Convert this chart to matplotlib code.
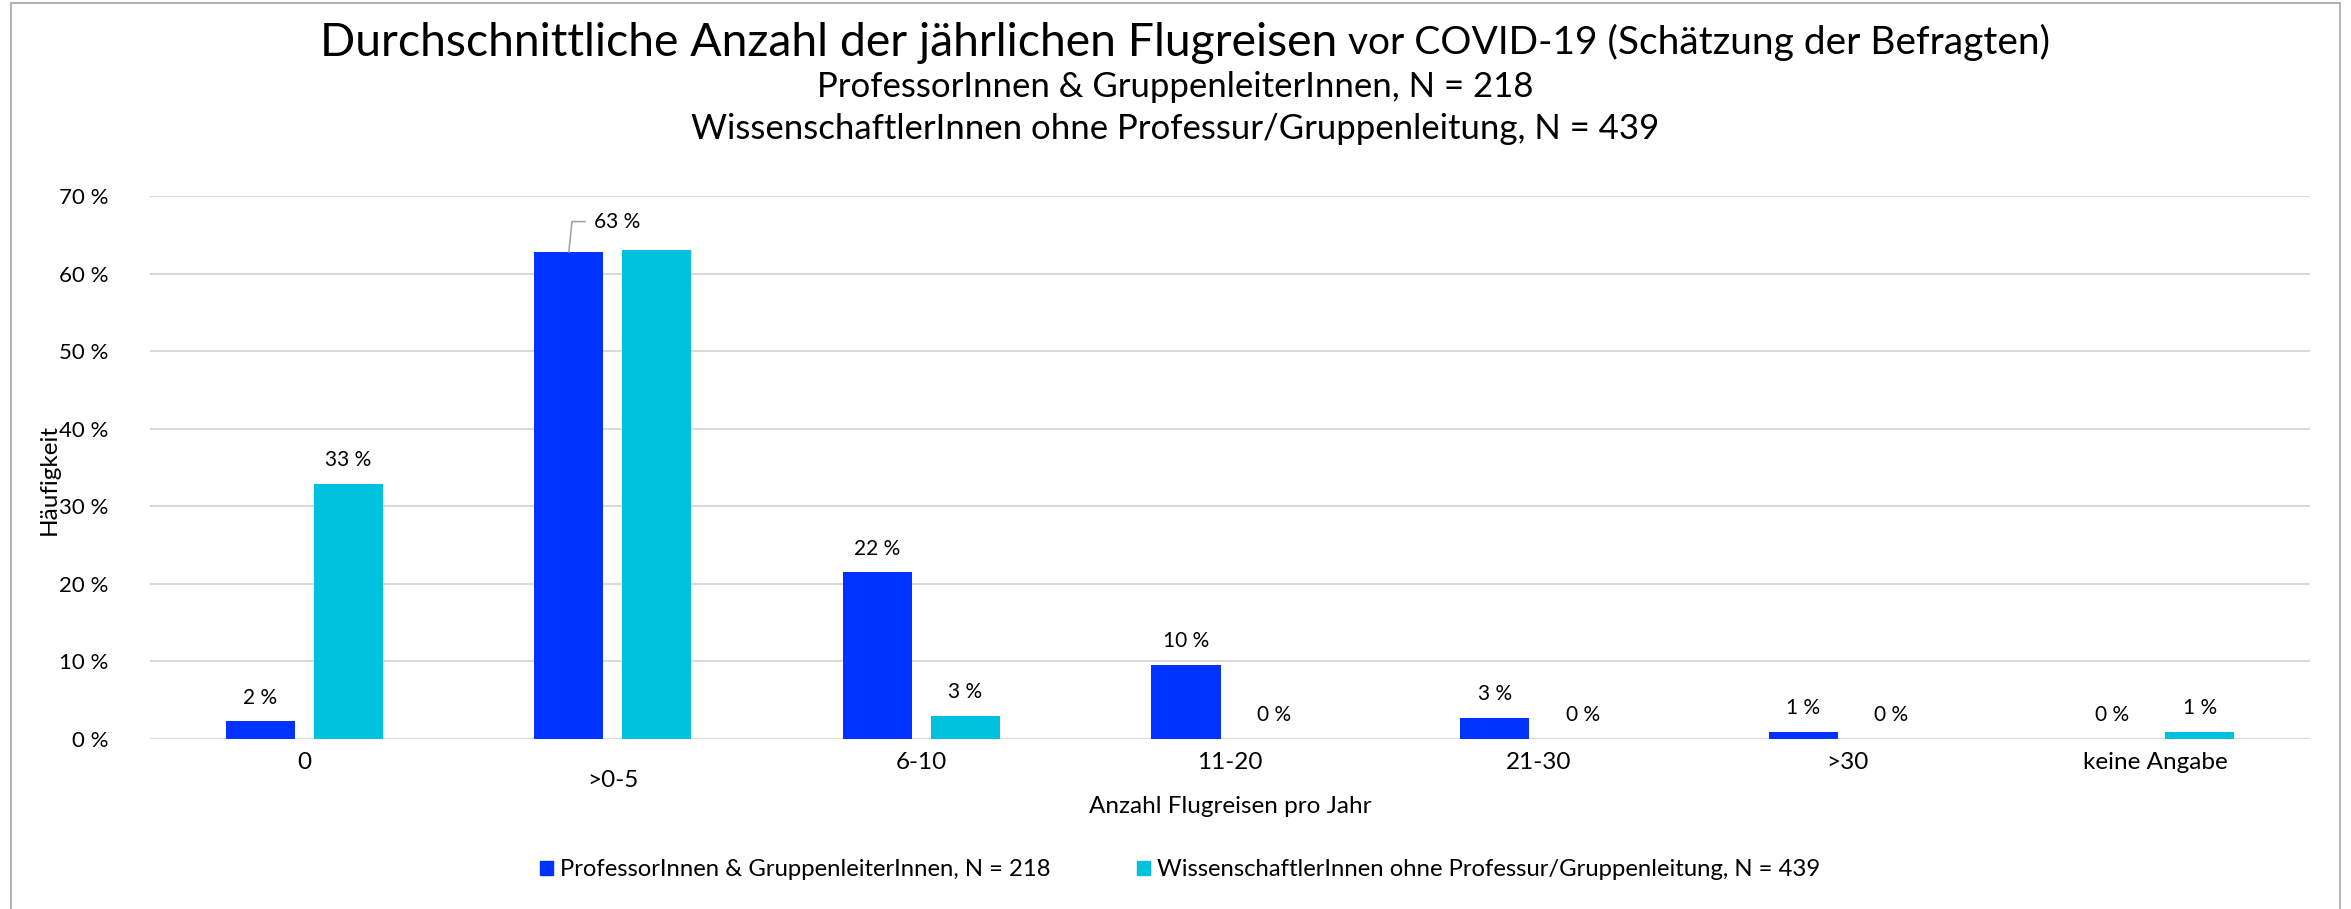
import matplotlib.pyplot as plt
from matplotlib.patches import Patch, Rectangle

# Data
categories = ['0', '>0-5', '6-10', '11-20', '21-30', '>30', 'keine Angabe']
prof = [2.3, 62.8, 21.5, 9.6, 2.7, 0.9, 0.0]
wiss = [32.9, 63.0, 3.0, 0.0, 0.0, 0.0, 0.9]
labels_prof = ['2 %', '63 %', '22 %', '10 %', '3 %', '1 %', '0 %']
labels_wiss = ['33 %', '63 %', '3 %', '0 %', '0 %', '0 %', '1 %']
yticks = [0, 10, 20, 30, 40, 50, 60, 70]
series_names = ['ProfessorInnen & GruppenleiterInnen, N = 218',
                'WissenschaftlerInnen ohne Professur/Gruppenleitung, N = 439']

blue = '#0033FF'
cyan = '#00C1DE'
font = 'Lato'
plt.rcParams['font.family'] = [font, 'DejaVu Sans']

fig = plt.figure(figsize=(23.51, 9.09), dpi=100)
ax = fig.add_axes([0.0638, 0.187, 0.9188, 0.5974])

# frame around the whole chart
fig.patches.append(Rectangle((0.0047, -0.05), 0.9906, 1.0467, transform=fig.transFigure,
                             fill=False, edgecolor='#A6A6A6', linewidth=1.2))

w = 0.224
off = 0.1426
x = range(len(categories))
xb = [i - off for i in x]
xc = [i + off for i in x]
ax.bar(xb, prof, width=w, color=blue, zorder=3)
ax.bar(xc, wiss, width=w, color=cyan, zorder=3)

fs = 15
for i in x:
    if i == 1:
        # Excel moved this label aside with a leader line
        ax.plot([xb[i], xb[i] + 0.01, xb[i] + 0.052], [prof[i], 66.7, 66.7],
                color='#A6A6A6', lw=1.2, zorder=4)
        ax.text(xb[i] + 0.08, 66.7, labels_prof[i], ha='left', va='center', fontsize=fs)
    else:
        ax.annotate(labels_prof[i], (xb[i], prof[i]), xytext=(0, 17), textcoords='offset points',
                    ha='center', va='center', fontsize=fs)
        ax.annotate(labels_wiss[i], (xc[i], wiss[i]), xytext=(0, 17), textcoords='offset points',
                    ha='center', va='center', fontsize=fs)

ax.set_xlim(-0.5, len(categories) - 0.5)
ax.set_ylim(0, 70)
ax.set_yticks(yticks)
ax.set_yticklabels([f'{v} %' for v in yticks], fontsize=16)
ax.set_xticks(list(x))
ax.set_xticklabels(categories, fontsize=17.5)
ax.tick_params(length=0)
ax.tick_params(axis='y', pad=30)
ax.tick_params(axis='x', pad=9)
ax.xaxis.get_major_ticks()[1].set_pad(22)
ax.grid(axis='y', color='#D9D9D9', lw=1.5, zorder=0)
for s in ax.spines.values():
    s.set_visible(False)

ax.set_ylabel('Häufigkeit', fontsize=17.5)
ax.yaxis.set_label_coords(-0.042, 0.477)
ax.set_xlabel('Anzahl Flugreisen pro Jahr', fontsize=17.5, labelpad=4)

# title in three lines, first line with a smaller tail
t1 = fig.text(0.5, 0.953, 'Durchschnittliche Anzahl der jährlichen Flugreisen', fontsize=33.4,
              ha='right', va='center')
t2 = fig.text(0.5, 0.953, ' vor COVID-19 (Schätzung der Befragten)', fontsize=28,
              ha='left', va='center')
fig.canvas.draw()
r = fig.canvas.get_renderer()
w1 = t1.get_window_extent(r).width / fig.bbox.width
w2 = t2.get_window_extent(r).width / fig.bbox.width
shift = (w1 - w2) / 2
t1.set_x(0.504 + shift)
t2.set_x(0.504 + shift)
fig.text(0.5, 0.904, series_names[0], fontsize=25, ha='center', va='center')
fig.text(0.5, 0.858, series_names[1], fontsize=25, ha='center', va='center')

handles = [Patch(color=blue), Patch(color=cyan)]
fig.legend(handles, series_names, loc='center', bbox_to_anchor=(0.502, 0.043), ncol=2,
           frameon=False, fontsize=17.2, handlelength=0.55, handleheight=0.55,
           handletextpad=0.3, columnspacing=3.6)

fig.savefig('out.png', dpi=100)
